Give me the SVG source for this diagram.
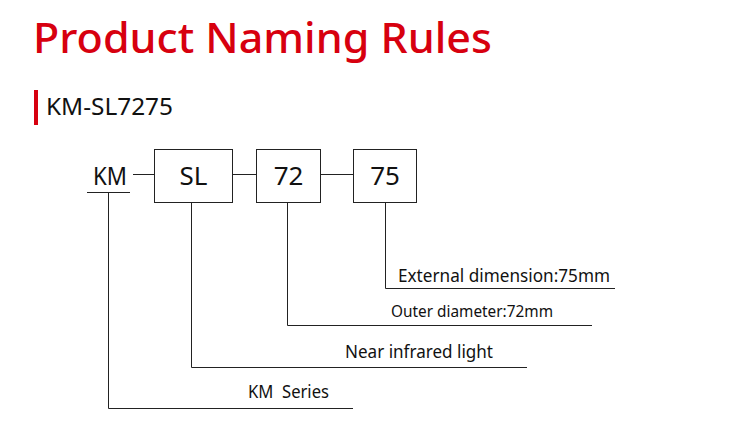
<svg xmlns="http://www.w3.org/2000/svg" width="743" height="436" viewBox="0 0 743 436">
<style>
text{font-family:"Noto Sans","Open Sans","Liberation Sans",sans-serif;fill:#111}
.t{fill:#d7000f;font-weight:500}
.box{fill:#fff;stroke:#222;stroke-width:1}
.ln{fill:none;stroke:#222;stroke-width:1}
</style>
<rect width="743" height="436" fill="#fff"/>
<text class="t" x="33" y="53" font-size="42" textLength="459" lengthAdjust="spacingAndGlyphs">Product Naming Rules</text>
<rect x="34" y="90" width="4" height="35" fill="#d7000f"/>
<text x="46" y="115" font-size="23" textLength="127" lengthAdjust="spacingAndGlyphs">KM-SL7275</text>
<g id="km"><text x="93" y="185" font-size="26" textLength="34" lengthAdjust="spacingAndGlyphs">KM</text></g>
<g id="sl"><rect class="box" x="154.5" y="149.5" width="78" height="53"/><text x="193.5" y="185" font-size="26" text-anchor="middle">SL</text></g>
<g id="n72"><rect class="box" x="256.5" y="149.5" width="64" height="53"/><text x="288.5" y="185" font-size="26" text-anchor="middle">72</text></g>
<g id="n75"><rect class="box" x="353.5" y="149.5" width="63" height="53"/><text x="385" y="185" font-size="26" text-anchor="middle">75</text></g>
<g id="labels">
<text x="398" y="282" font-size="18" textLength="212" lengthAdjust="spacingAndGlyphs">External dimension:75mm</text>
<text x="391" y="317" font-size="16" textLength="162" lengthAdjust="spacingAndGlyphs">Outer diameter:72mm</text>
<text x="345" y="358" font-size="18" textLength="148" lengthAdjust="spacingAndGlyphs">Near infrared light</text>
<text x="248" y="398" font-size="18" textLength="81" lengthAdjust="spacingAndGlyphs" xml:space="preserve">KM  Series</text>
</g>
<g id="connectors" class="ln">
<path class="ln" d="M133 174.5H154M233 174.5H256M321 174.5H353"/>
<path class="ln" d="M87 192.5H130M108.5 192.5V408.5H353"/>
<path class="ln" d="M191.5 203V367.5H527"/>
<path class="ln" d="M287.5 203V325.5H592"/>
<path class="ln" d="M385.5 203V288.5H615"/>
</g>
</svg>
